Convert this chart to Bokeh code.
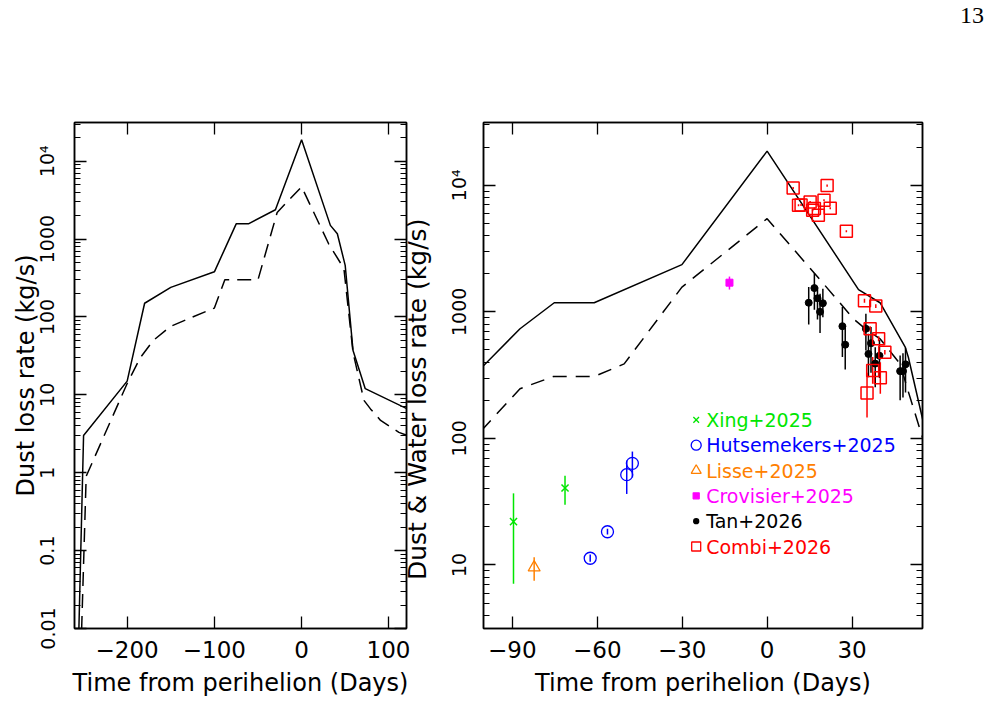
import math
from bokeh.plotting import figure
from bokeh.layouts import row, column
from bokeh.models import (FixedTicker, LinearAxis, LogAxis, CustomJSTickFormatter,
                          Range1d, ColumnDataSource, Div)
from bokeh.embed import file_html
from bokeh.resources import INLINE
from bokeh.core.properties import value

# ---------------- data ----------------
# Left panel: dust loss rate models (kg/s) vs time from perihelion (days)
dust_days_solid = [-256, -250, -200, -180, -150, -100, -88, -75, -61, -30, 0, 33, 41, 50, 59, 73, 125]
dust_rate_solid = [0.005, 3.0, 15, 150, 240, 380, 750, 1570, 1570, 2380, 18800, 1500, 1170, 460, 37, 12, 6.3]
dust_days_dashed = [-253, -247, -200, -185, -170, -150, -125, -100, -88, -50, -28, 0, 31, 48.5, 59, 71.5, 79, 90.6, 111.6, 125]
dust_rate_dashed = [0.005, 0.9, 14, 30, 50, 76, 100, 130, 300, 300, 2200, 4700, 870, 420, 35, 8.5, 6.6, 4.7, 3.3, 2.9]

# Right panel: dust & water models
model_days_solid = [-101, -87.3, -75.2, -61.1, -30.1, 0, 32.3, 39.9, 48.8, 49.9, 55.5]
model_rate_solid = [360, 735, 1180, 1180, 2360, 18600, 1500, 1180, 526, 438, 125]
model_days_dashed = [-101, -87.3, -75.5, -61.1, -50.5, -30.1, 0, 19.9, 30.5, 34.0, 39.9, 47.0, 49.4, 55.5]
model_rate_dashed = [115, 247, 308, 308, 388, 1567, 5450, 1670, 881, 757, 612, 388, 254, 92]

# Observations
xing_days = [-89.6, -71.4]
xing_rate = [22, 40.6]
xing_lo = [7.1, 29.9]
xing_hi = [36.8, 50.8]

huts_days = [-62.5, -56.4, -49.6, -47.6]
huts_rate = [11.3, 18.3, 51.7, 63.5]
huts_lo = [10.6, 17.4, 36.4, 49.2]
huts_hi = [12.1, 19.3, 66.7, 78.7]

lisse_days = [-82.3]
lisse_rate = [9.55]
lisse_lo = [7.5]
lisse_hi = [11.5]

crov_days = [-13.3]
crov_rate = [1700]
crov_lo = [1500]
crov_hi = [1900]

tan_days = [14.7, 16.7, 17.8, 19.7, 18.7, 26.6, 27.6, 34.9, 35.8, 36.7, 38.2, 39.7, 47.0, 48.0, 48.9]
tan_rate = [1180, 1540, 1280, 1170, 1000, 770, 550, 735, 465, 565, 390, 450, 340, 340, 385]
tan_lo = [794, 1040, 870, 907, 680, 440, 350, 495, 304, 330, 254, 300, 200, 210, 230]
tan_hi = [1570, 2020, 1570, 1524, 1390, 1090, 780, 966, 672, 760, 525, 600, 452, 470, 520]

combi_days = [9.2, 21.2, 11.1, 12.0, 15.2, 20.1, 16.7, 18.1, 16.1, 22.3, 28.0, 34.4, 38.4, 36.4, 39.4, 41.6, 37.3, 40.0, 35.3]
combi_rate = [9530, 9940, 6950, 7000, 7380, 7610, 6550, 5800, 6350, 6580, 4330, 1225, 1110, 734, 612, 480, 344, 301, 228]
combi_lo = [9350, 9750, 6820, 6870, 7240, 7470, 6430, 5690, 6230, 6460, 4250, 1180, 1070, 700, 585, 460, 270, 225, 146]
combi_hi = [9710, 10130, 7080, 7130, 7520, 7750, 6670, 5910, 6470, 6700, 4410, 1270, 1150, 770, 640, 500, 440, 400, 330]

legend_labels = ["Xing+2025", "Hutsemekers+2025", "Lisse+2025", "Crovisier+2025", "Tan+2026", "Combi+2026"]
legend_colors = ["#00e600", "#0000ff", "#ff8000", "#ff00ff", "#000000", "#ff0000"]

left_xticks = [-200, -100, 0, 100]
left_xlabels = ["\u2212200", "\u2212100", "0", "100"]
left_yticks = [0.01, 0.1, 1, 10, 100, 1000, 10000]
left_ylabels = ["0.01", "0.1", "1", "10", "100", "1000", "10\u2074"]
right_xticks = [-90, -60, -30, 0, 30]
right_xlabels = ["\u221290", "\u221260", "\u221230", "0", "30"]
right_yticks = [10, 100, 1000, 10000]
right_ylabels = ["10", "100", "1000", "10\u2074"]

x_title = "Time from perihelion (Days)"
left_y_title = "Dust loss rate (kg/s)"
right_y_title = "Dust & Water loss rate (kg/s)"
page_number = "13"

# ---------------- style ----------------
FONT = "DejaVu Sans"
GREEN, BLUE, ORANGE, MAGENTA, BLACK, RED = legend_colors
TOP_H = 40          # height of the strip holding the page number
FIG_H = 727 - TOP_H


def log_minors(lo_exp, hi_exp):
    out = []
    for e in range(lo_exp, hi_exp + 1):
        for m in range(2, 10):
            out.append(m * 10.0 ** e)
    return out


def fmt(ticks, labels):
    return CustomJSTickFormatter(args=dict(vals=ticks, labs=labels), code="""
        for (let i = 0; i < vals.length; i++) {
            if (Math.abs(vals[i] - tick) <= 1e-9 * Math.max(1, Math.abs(vals[i]))) return labs[i];
        }
        return '';
    """)


def empty_fmt():
    return CustomJSTickFormatter(code="return '';")


def style_axis(ax, ticks, minor, formatter, label_size, standoff, vertical=False):
    ax.ticker = FixedTicker(ticks=ticks, minor_ticks=minor)
    ax.formatter = formatter
    ax.major_tick_in = 12
    ax.major_tick_out = 0
    ax.minor_tick_in = 6
    ax.minor_tick_out = 0
    ax.major_tick_line_width = 1.3
    ax.minor_tick_line_width = 1.2
    ax.major_tick_line_color = "black"
    ax.minor_tick_line_color = "black" if minor else None
    ax.axis_line_color = "black"
    ax.axis_line_width = 1.5
    ax.major_label_text_font = FONT
    ax.major_label_text_font_size = label_size
    ax.major_label_text_color = "black"
    ax.major_label_standoff = standoff
    if vertical:
        ax.major_label_orientation = "vertical"
    ax.axis_label_text_font = FONT
    ax.axis_label_text_font_size = "24px"
    ax.axis_label_text_font_style = "normal"
    ax.axis_label_text_color = "black"


def make_fig(width, xr, yr, left, right, xt, xl, yt, yl, ymin_exp, ymax_exp,
             ylabel, ytick_standoff, ylab_standoff, ylab_size):
    p = figure(width=width, height=FIG_H, x_range=Range1d(*xr), y_range=Range1d(*yr),
               y_axis_type="log", output_backend="svg", toolbar_location=None,
               min_border_left=left, min_border_right=right,
               min_border_top=122 - TOP_H, min_border_bottom=99)
    p.xgrid.visible = False
    p.ygrid.visible = False
    p.outline_line_color = "black"
    p.outline_line_width = 1.5
    p.background_fill_color = "white"
    p.border_fill_color = "white"
    minors = log_minors(ymin_exp, ymax_exp)

    bx = p.xaxis[0]
    style_axis(bx, xt, [], fmt(xt, xl), "23px", 12)
    bx.axis_label = x_title
    bx.axis_label_standoff = 8

    ly = p.yaxis[0]
    style_axis(ly, yt, minors, fmt(yt, yl), "19px", ytick_standoff, vertical=True)
    ly.axis_label = ylabel
    ly.axis_label_standoff = ylab_standoff
    ly.axis_label_text_font_size = ylab_size

    top = LinearAxis()
    style_axis(top, xt, [], empty_fmt(), "1px", 0)
    p.add_layout(top, "above")
    rgt = LogAxis()
    style_axis(rgt, yt, minors, empty_fmt(), "1px", 0)
    p.add_layout(rgt, "right")
    return p


S = 410        # where the right canvas nominally starts
OVERLAP = 20   # right canvas slides under the left one's empty margin

# ---------------- left panel ----------------
p1 = make_fig(S, (-260.4, 120.3), (0.01, 10 ** 4.497), 74, S - 406,
              left_xticks, left_xlabels, left_yticks, left_ylabels, -2, 4,
              left_y_title, 16, -6, "24px")
p1.line(dust_days_solid, dust_rate_solid, line_color="black", line_width=1.5)
p1.line(dust_days_dashed, dust_rate_dashed, line_color="black", line_width=1.5, line_dash="14 8")

# ---------------- right panel ----------------
RX = (-100.2, 54.9)
RY = (10 ** 0.498, 10 ** 4.496)
# trailing no-break spaces move the centred title a little toward the bottom, as in the original
p2 = make_fig(990 - S + OVERLAP, RX, RY, 483 - S + OVERLAP, 68,
              right_xticks, right_xlabels, right_yticks, right_ylabels, 0, 4,
              right_y_title + "\u00a0" * 6, 13, 14, "25px")
p2.border_fill_color = None
p2.margin = (0, 0, 0, -OVERLAP)
p2.line(model_days_solid, model_rate_solid, line_color="black", line_width=1.5)
p2.line(model_days_dashed, model_rate_dashed, line_color="black", line_width=1.5, line_dash="14 9")

# error bars
p2.segment(xing_days, xing_lo, xing_days, xing_hi, line_color=GREEN, line_width=1.5)
p2.segment(huts_days, huts_lo, huts_days, huts_hi, line_color=BLUE, line_width=1.5)
p2.segment(lisse_days, lisse_lo, lisse_days, lisse_hi, line_color=ORANGE, line_width=1.5)
p2.segment(crov_days, crov_lo, crov_days, crov_hi, line_color=MAGENTA, line_width=1.5)
p2.segment(tan_days, tan_lo, tan_days, tan_hi, line_color=BLACK, line_width=1.5)
p2.segment(combi_days, combi_lo, combi_days, combi_hi, line_color=RED, line_width=1.5)

# markers
p2.scatter(xing_days, xing_rate, marker="x", size=10, line_color=GREEN, line_width=1.5)
p2.scatter(huts_days, huts_rate, marker="circle", size=12, line_color=BLUE, fill_color=None, line_width=1.3)
p2.scatter(lisse_days, lisse_rate, marker="triangle", size=12, line_color=ORANGE, fill_color=None, line_width=1.3)
p2.scatter(crov_days, crov_rate, marker="square", size=7, line_color=MAGENTA, fill_color=MAGENTA)
p2.scatter(tan_days, tan_rate, marker="circle", size=7, line_color=BLACK, fill_color=BLACK)
p2.scatter(combi_days, combi_rate, marker="square", size=12, line_color=RED, fill_color=None, line_width=1.5)

# legend (layout positions in page pixels, converted to data coordinates)
FR_L, FR_B, FR_W, FR_H = 483.3, 627.7, 439.0, 505.4


def px_to_x(px):
    return RX[0] + (px - FR_L) / FR_W * (RX[1] - RX[0])


def py_to_y(py):
    l0, l1 = math.log10(RY[0]), math.log10(RY[1])
    return 10 ** (l0 + (FR_B - py) / FR_H * (l1 - l0))


leg_rows = [419.3 + 25.3 * i for i in range(len(legend_labels))]
leg_src = ColumnDataSource(dict(
    mx=[px_to_x(696)] * len(legend_labels),
    tx=[px_to_x(706)] * len(legend_labels),
    y=[py_to_y(r) for r in leg_rows],
    label=legend_labels,
    color=legend_colors,
    marker=["x", "circle", "triangle", "square", "circle", "square"],
    size=[8, 10, 10, 6, 5, 9],
    fill=[None, None, None, MAGENTA, BLACK, None],
))
p2.scatter("mx", "y", source=leg_src, marker="marker", size="size", line_color="color",
           fill_color="fill", line_width=1.3)
p2.text("tx", "y", text="label", source=leg_src, text_color="color", text_font=value(FONT),
        text_font_size=value("19px"), text_baseline="middle", text_align="left")

# page number strip
header = Div(
    text=('<div style="position:relative;width:990px;height:%dpx;">'
          '<span style="position:absolute;left:960px;top:3px;font-family:\'Liberation Serif\',serif;'
          'font-size:24px;line-height:1;color:black;">%s</span></div>') % (TOP_H, page_number),
    width=990, height=TOP_H, margin=0)

layout = column(header, row(p1, p2, spacing=0), spacing=0)
open("out.html", "w").write(file_html(layout, INLINE))
